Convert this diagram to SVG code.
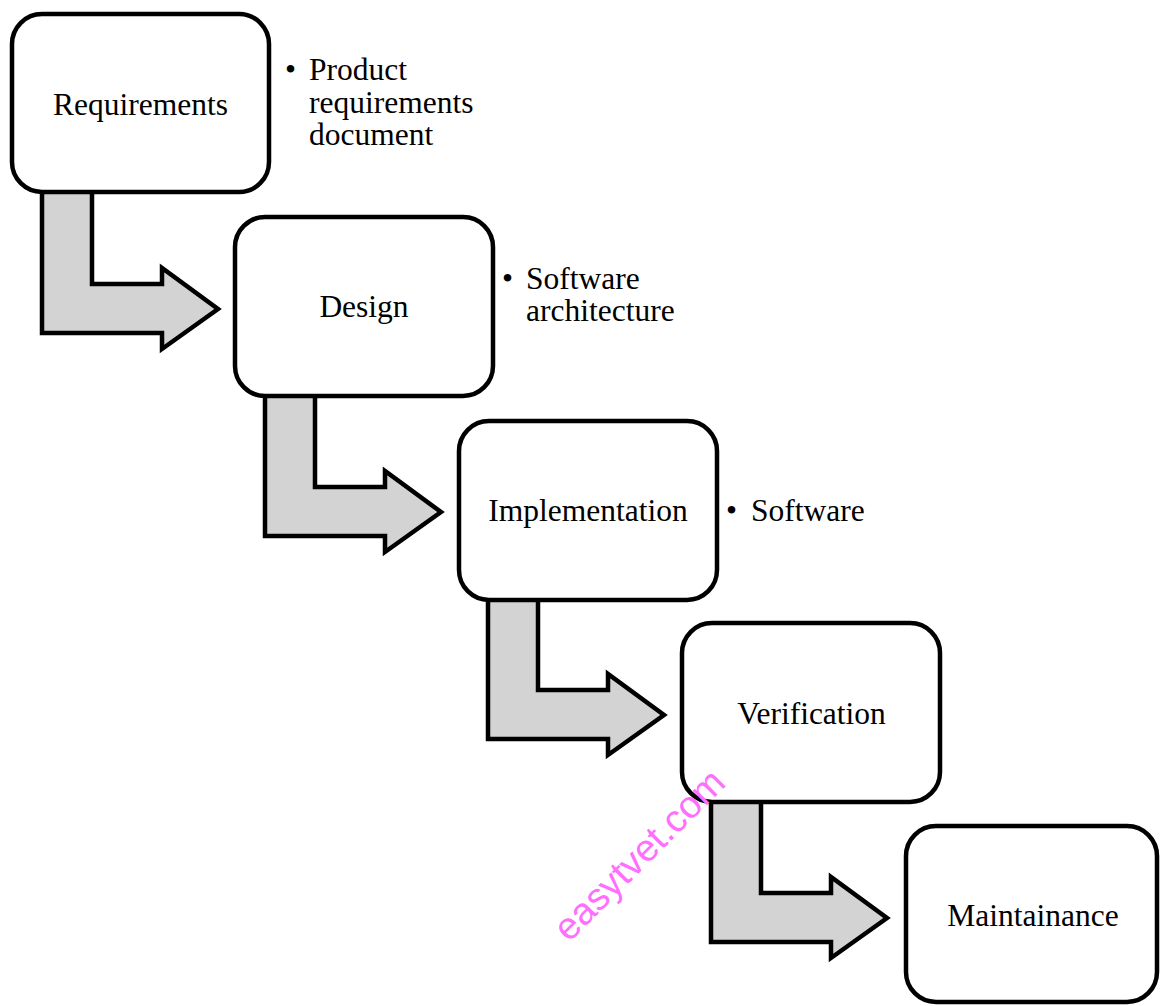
<svg xmlns="http://www.w3.org/2000/svg" width="1160" height="1006" viewBox="0 0 1160 1006">
  <style>
    .box { fill: #ffffff; stroke: #000000; stroke-width: 4.5; }
    .bend { fill: #d3d3d3; stroke: #000000; stroke-width: 4.5; stroke-linejoin: miter; }
    .label { font-family: 'Liberation Serif', 'Times New Roman', Times, serif; font-size: 31.5px; fill: #000000; }
    .mid { text-anchor: middle; }
    .mark { font-family: 'Liberation Sans', Arial, Helvetica, sans-serif; font-size: 38px; fill: #ff6eff; }
  </style>
  <defs>
    <!-- bent block arrow from the bottom of one phase box into the next -->
    <path id="bent" d="M42,190 L92,190 L92,284 L162,284 L162,268 L218,309 L162,349 L162,333 L42,333 Z"/>
  </defs>

  <rect width="1160" height="1006" fill="#ffffff"/>

  <g id="connectors">
    <use href="#bent" class="bend"/>
    <use href="#bent" class="bend" transform="translate(223,203)"/>
    <use href="#bent" class="bend" transform="translate(446,406)"/>
    <use href="#bent" class="bend" transform="translate(669,609)"/>
  </g>

  <g id="requirements">
    <rect class="box" x="12" y="14" width="257" height="178" rx="30"/>
    <text class="label mid" x="140.5" y="115">Requirements</text>
  </g>
  <g id="design">
    <rect class="box" x="235" y="217" width="258" height="179" rx="30"/>
    <text class="label mid" x="364" y="317">Design</text>
  </g>
  <g id="implementation">
    <rect class="box" x="459" y="421" width="258" height="179" rx="30"/>
    <text class="label mid" x="588" y="521">Implementation</text>
  </g>
  <g id="verification">
    <rect class="box" x="682" y="623" width="258" height="179" rx="30"/>
    <text class="label mid" x="811.5" y="724">Verification</text>
  </g>
  <g id="maintainance">
    <rect class="box" x="906" y="826" width="251" height="176" rx="30"/>
    <text class="label mid" x="1033" y="926">Maintainance</text>
  </g>

  <g id="requirements-output">
    <text class="label" x="285" y="80">•</text>
    <text class="label" x="309" y="80">Product</text>
    <text class="label" x="309" y="112.5">requirements</text>
    <text class="label" x="309" y="145">document</text>
  </g>
  <g id="design-output">
    <text class="label" x="502" y="289">•</text>
    <text class="label" x="526" y="289">Software</text>
    <text class="label" x="526" y="321">architecture</text>
  </g>
  <g id="implementation-output">
    <text class="label" x="726" y="521">•</text>
    <text class="label" x="751" y="521">Software</text>
  </g>

  <text class="mark" x="569" y="943" transform="rotate(-45 569 943)">easytvet.com</text>
</svg>
